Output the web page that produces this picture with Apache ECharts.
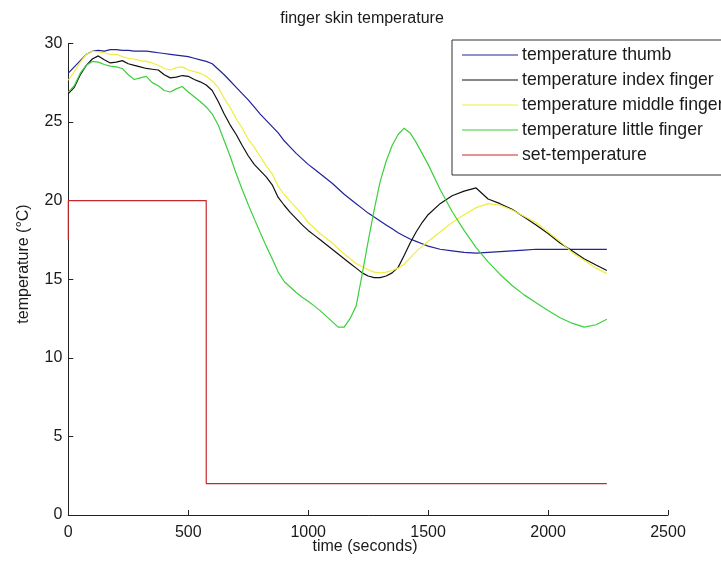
<!DOCTYPE html>
<html>
<head>
<meta charset="utf-8">
<title>finger skin temperature</title>
<script src="https://cdn.jsdelivr.net/npm/echarts@6/dist/echarts.min.js"></script>
<style>
  html, body { margin: 0; padding: 0; background: #ffffff; }
  #chart { width: 721px; height: 565px; }
</style>
</head>
<body>
<div id="chart"></div>
<script>
// Sample times (seconds) shared by the four finger measurements
const times = [
  0, 25, 50, 75, 100, 125, 150, 175, 200, 225, 250, 275, 300, 325, 350, 375, 400, 425, 450, 475,
  500, 525, 550, 575, 600, 625, 650, 675, 700, 725, 750, 775, 800, 825, 850, 875, 900, 925, 950, 975,
  1000, 1025, 1050, 1075, 1100, 1125, 1150, 1175, 1200, 1225, 1250, 1275, 1300, 1325, 1350, 1375, 1400, 1425, 1450, 1475,
  1500, 1550, 1600, 1650, 1700, 1750, 1800, 1850, 1900, 1950, 2000, 2050, 2100, 2150, 2200, 2245
];

const thumb = [
  28.1, 28.5, 28.9, 29.3, 29.5, 29.55, 29.5, 29.6, 29.6, 29.55, 29.55, 29.5, 29.5, 29.5, 29.45, 29.4, 29.35, 29.3, 29.25, 29.2,
  29.15, 29.05, 28.95, 28.85, 28.7, 28.35, 28.0, 27.6, 27.2, 26.8, 26.4, 25.95, 25.5, 25.1, 24.7, 24.3, 23.8, 23.4, 23.0, 22.65,
  22.3, 22.0, 21.7, 21.4, 21.1, 20.75, 20.4, 20.1, 19.8, 19.5, 19.2, 18.95, 18.7, 18.45, 18.2, 17.95, 17.75, 17.55, 17.4, 17.25,
  17.1, 16.9, 16.8, 16.7, 16.65, 16.7, 16.75, 16.8, 16.85, 16.9, 16.9, 16.9, 16.9, 16.9, 16.9, 16.9
];

const indexFinger = [
  26.8, 27.2, 28.0, 28.6, 29.0, 29.2, 28.95, 28.75, 28.8, 28.9, 28.7, 28.6, 28.5, 28.4, 28.35, 28.3, 28.0, 27.8, 27.85, 27.95,
  27.9, 27.7, 27.55, 27.35, 27.0, 26.3, 25.5, 24.8, 24.2, 23.5, 22.85, 22.3, 21.9, 21.5, 21.0, 20.2, 19.7, 19.25, 18.85, 18.45,
  18.1, 17.8, 17.5, 17.2, 16.9, 16.6, 16.3, 16.0, 15.7, 15.4, 15.2, 15.1, 15.1, 15.2, 15.4, 15.75, 16.5, 17.3, 18.0, 18.6,
  19.1, 19.8, 20.3, 20.6, 20.8, 20.1, 19.8, 19.45, 18.95, 18.45, 17.9, 17.3, 16.8, 16.3, 15.9, 15.55
];

const middleFinger = [
  27.65, 28.2, 28.8, 29.3, 29.5, 29.45, 29.4, 29.3, 29.3, 29.15, 29.05, 29.0, 28.9, 28.85, 28.75, 28.6, 28.4, 28.3, 28.45, 28.5,
  28.3, 28.2, 28.1, 27.9, 27.6, 27.2, 26.5, 25.9, 25.2, 24.6, 23.9, 23.4, 22.8, 22.2, 21.7, 20.9, 20.4, 19.95, 19.55, 19.1,
  18.6, 18.25, 17.9, 17.6, 17.3, 16.95, 16.6, 16.3, 16.0, 15.8, 15.6, 15.45, 15.4, 15.45, 15.55, 15.7, 15.95, 16.35, 16.75, 17.1,
  17.4, 18.0, 18.6, 19.1, 19.55, 19.8, 19.7, 19.4, 19.0, 18.6, 18.0, 17.4, 16.7, 16.2, 15.7, 15.35
];

const littleFinger = [
  26.9, 27.3, 28.1, 28.6, 28.85, 28.8, 28.65, 28.55, 28.5, 28.4, 28.0, 27.7, 27.8, 27.9, 27.5, 27.3, 27.0, 26.9, 27.1, 27.25,
  26.9, 26.6, 26.3, 25.95, 25.5, 24.8, 23.8, 22.8, 21.7, 20.7, 19.75, 18.85, 17.96, 17.1, 16.3, 15.45, 14.85, 14.5, 14.15, 13.85,
  13.6, 13.3, 13.0, 12.65, 12.3, 11.95, 11.95, 12.5, 13.3, 15.3, 17.4, 19.4, 21.2, 22.5, 23.5, 24.2, 24.6, 24.3, 23.7, 23.0,
  22.3, 20.7, 19.3, 18.1, 17.0, 16.1, 15.3, 14.6, 14.0, 13.5, 13.0, 12.55, 12.2, 11.95, 12.1, 12.45
];

// Set-point of the cooling device (step profile)
const setTimes = [0, 0, 575, 575, 2245];
const setValues = [17.5, 20, 20, 2, 2];

const seriesNames = [
  'temperature thumb',
  'temperature index finger',
  'temperature middle finger',
  'temperature little finger',
  'set-temperature'
];

const xTicks = { min: 0, max: 2500, step: 500 };
const yTicks = { min: 0, max: 30, step: 5 };

const colors = ['#22229a', '#111111', '#f0ee3c', '#3ccf3c', '#c4282c'];
const FONT = '"Liberation Sans", Arial, Helvetica, sans-serif';
const TEXT = '#1a1a1a';

function pairs(xs, ys) {
  return xs.map((x, i) => [x, ys[i]]);
}

const valueSets = [thumb, indexFinger, middleFinger, littleFinger];
const series = valueSets.map((vals, i) => ({
  name: seriesNames[i],
  type: 'line',
  data: pairs(times, vals),
  showSymbol: false,
  symbol: 'none',
  lineStyle: { color: colors[i], width: 1.2 },
  itemStyle: { color: colors[i] },
  animation: false,
  z: 3
}));
series.push({
  name: seriesNames[4],
  type: 'line',
  data: pairs(setTimes, setValues),
  showSymbol: false,
  symbol: 'none',
  lineStyle: { color: colors[4], width: 1.2 },
  itemStyle: { color: colors[4] },
  animation: false,
  z: 3
});

const chart = echarts.init(document.getElementById('chart'), null, { renderer: 'canvas' });

const axisCommon = {
  type: 'value',
  axisLine: { show: true, onZero: false, lineStyle: { color: '#222', width: 1 } },
  axisTick: { show: true, inside: true, length: 5, lineStyle: { color: '#222', width: 1 } },
  splitLine: { show: false },
  axisLabel: { color: TEXT, fontFamily: FONT, fontSize: 16, formatter: (v) => String(v) }
};

chart.setOption({
  backgroundColor: '#ffffff',
  animation: false,
  color: colors,
  legend: {
    orient: 'vertical',
    left: 452,
    top: 40,
    padding: [6, 40, 11, 10],
    itemGap: 7,
    itemWidth: 56,
    itemHeight: 1,
    icon: 'rect',
    backgroundColor: '#ffffff',
    borderColor: '#333',
    borderWidth: 1,
    borderRadius: 0,
    z: 10,
    textStyle: { color: TEXT, fontFamily: FONT, fontSize: 17.7, lineHeight: 18, padding: [0, 0, 0, -1] },
    data: seriesNames
  },
  grid: { left: 68.3, right: 53, top: 43.3, bottom: 50, containLabel: false },
  xAxis: Object.assign({}, axisCommon, {
    min: xTicks.min, max: xTicks.max, interval: xTicks.step,
    axisLabel: Object.assign({}, axisCommon.axisLabel, { margin: 10 })
  }),
  yAxis: Object.assign({}, axisCommon, {
    min: yTicks.min, max: yTicks.max, interval: yTicks.step,
    axisLabel: Object.assign({}, axisCommon.axisLabel, { margin: 6 })
  }),
  graphic: [
    {
      type: 'text',
      x: 362, y: 19,
      style: { text: 'finger skin temperature', fill: TEXT, font: '16px ' + FONT, align: 'center', verticalAlign: 'middle' }
    },
    {
      type: 'text',
      x: 365, y: 547,
      style: { text: 'time (seconds)', fill: TEXT, font: '16px ' + FONT, align: 'center', verticalAlign: 'middle' }
    },
    {
      type: 'text',
      x: 24, y: 264,
      rotation: Math.PI / 2,
      style: { text: 'temperature (°C)', fill: TEXT, font: '16px ' + FONT, align: 'center', verticalAlign: 'middle' }
    }
  ],
  series: series
});
</script>
</body>
</html>
